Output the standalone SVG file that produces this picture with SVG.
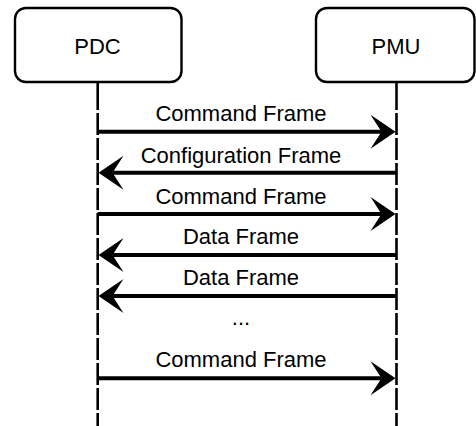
<svg xmlns="http://www.w3.org/2000/svg" width="476" height="426" viewBox="0 0 476 426">
  <style>
    .box { fill: #ffffff; stroke: #000000; stroke-width: 2.4; }
    .life { stroke: #000000; stroke-width: 2.6; fill: none; }
    .dash { stroke-dasharray: 22 3; }
    .msg { stroke: #000000; stroke-width: 4; fill: none; marker-end: url(#head); }
    text { font-family: "Liberation Sans", Arial, sans-serif; font-size: 22px; fill: #000000; text-anchor: middle; }
  </style>
  <defs>
    <!-- filled concave arrowhead; the line stops at the notch, the tip sits 14px further on -->
    <marker id="head" viewBox="-26 -18 27 36" refX="-14" refY="0" markerWidth="27" markerHeight="36" markerUnits="userSpaceOnUse" orient="auto">
      <path d="M0,0 L-25,-17 L-14,0 L-25,17 Z" fill="#000000"/>
    </marker>
  </defs>

  <!-- lifelines -->
  <g id="lifelines">
    <line class="life" x1="97.7" y1="83" x2="97.7" y2="110"/>
    <line class="life dash" x1="97.7" y1="113" x2="97.7" y2="426"/>
    <line class="life" x1="396.5" y1="83" x2="396.5" y2="110"/>
    <line class="life dash" x1="396.5" y1="113" x2="396.5" y2="426"/>
  </g>

  <g id="pdc">
    <rect class="box" x="15" y="8" width="166.5" height="74" rx="11"/>
    <text x="97.5" y="53.5">PDC</text>
  </g>

  <g id="pmu">
    <rect class="box" x="316" y="8" width="158.5" height="74" rx="11"/>
    <text x="396" y="53.5">PMU</text>
  </g>

  <!-- messages -->
  <g id="connectors">
    <line class="msg" x1="97.7" y1="131.7" x2="381.5" y2="131.7"/>
    <line class="msg" x1="396.5" y1="172.7" x2="112.5" y2="172.7"/>
    <line class="msg" x1="97.7" y1="214" x2="381.5" y2="214"/>
    <line class="msg" x1="396.5" y1="255" x2="112.5" y2="255"/>
    <line class="msg" x1="396.5" y1="296" x2="112.5" y2="296"/>
    <line class="msg" x1="97.7" y1="378.3" x2="381.5" y2="378.3"/>
  </g>

  <g id="labels">
    <text x="241" y="120.7">Command Frame</text>
    <text x="241" y="162.5">Configuration Frame</text>
    <text x="241" y="203.5">Command Frame</text>
    <text x="241" y="244.3">Data Frame</text>
    <text x="241" y="285">Data Frame</text>
    <text x="241" y="324.5">...</text>
    <text x="241" y="367.3">Command Frame</text>
  </g>
</svg>
